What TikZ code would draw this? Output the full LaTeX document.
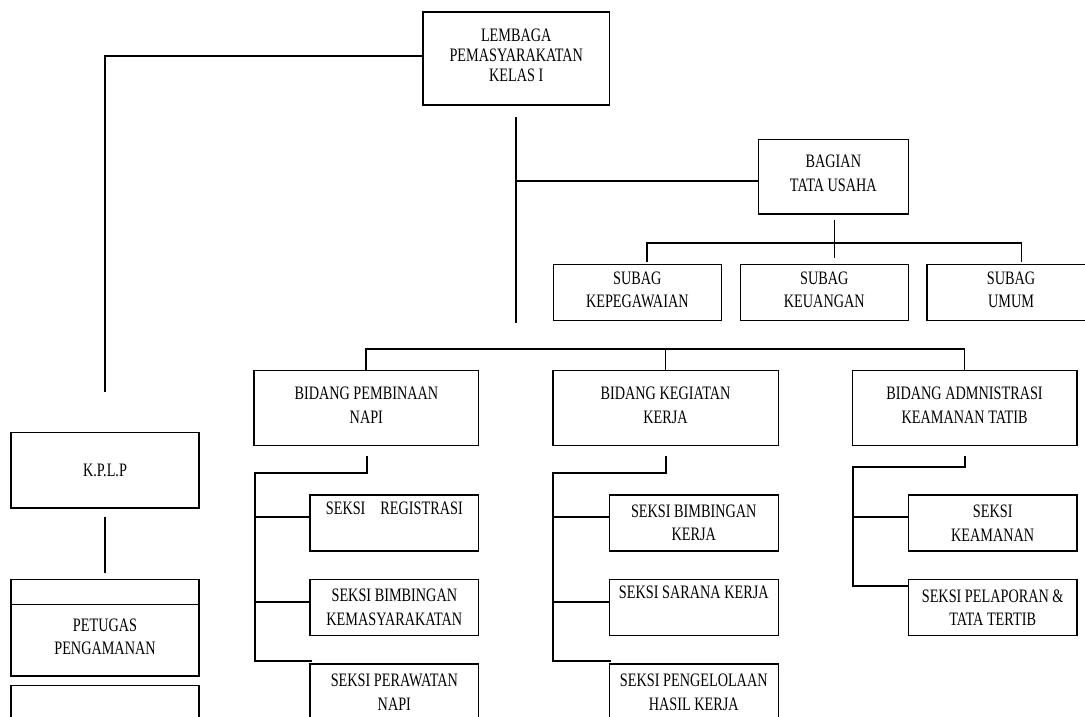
\documentclass[tikz,border=0pt]{standalone}
\usepackage{fontspec}
\setmainfont{Liberation Serif}[FakeStretch=0.75]
\usetikzlibrary{calc}
\begin{document}
\begin{tikzpicture}[x=1pt,y=-1pt,
  box/.style={draw=black, line width=1.2pt, rectangle, inner sep=0pt, align=center,
              font=\fontsize{19}{23.5}\selectfont},
  conn/.style={draw=black, line width=1.8pt}]
\clip (0,0) rectangle (1085,717);
\fill[white] (0,0) rectangle (1085,717);

% top
\node[box, minimum width=186.5, minimum height=93, font=\fontsize{19}{20}\selectfont] (lem) at (516.25,58.5) {LEMBAGA\\PEMASYARAKATAN\\KELAS I\\[-14pt]\mbox{}};

% left column
\node[box, minimum width=188, minimum height=75.3] (kplp) at (105,470.35) {K.P.L.P};
\node[box, minimum width=188, minimum height=25] (petTop) at (105,591.8) {};
\node[box, minimum width=188, minimum height=71.7] (pet) at (105,640.15) {PETUGAS\\PENGAMANAN\\[-17pt]\mbox{}};
\node[box, minimum width=188, minimum height=75] (lowbox) at (105,722.8) {};

% tata usaha
\node[box, minimum width=150.1, minimum height=74.7] (tu) at (833.35,176.65) {BAGIAN\\TATA USAHA\\[-17pt]\mbox{}};
\node[box, minimum width=168.2, minimum height=56.4] (sub1) at (637.3,292.5) {SUBAG\\KEPEGAWAIAN\\[-18pt]\mbox{}};
\node[box, minimum width=168.2, minimum height=56.4] (sub2) at (824.3,292.5) {SUBAG\\KEUANGAN\\[-18pt]\mbox{}};
\node[box, minimum width=168.2, minimum height=56.4] (sub3) at (1011,292.5) {SUBAG\\UMUM\\[-18pt]\mbox{}};

% bidang
\node[box, minimum width=224.7, minimum height=75] (b1) at (366.35,408.2) {BIDANG PEMBINAAN\\NAPI\\[-18pt]\mbox{}};
\node[box, minimum width=225.2, minimum height=75] (b2) at (665.5,408.2) {BIDANG KEGIATAN\\KERJA\\[-18pt]\mbox{}};
\node[box, minimum width=224.9, minimum height=75] (b3) at (964.55,408.2) {BIDANG ADMNISTRASI\\KEAMANAN TATIB\\[-18pt]\mbox{}};

% seksi col 1
\node[box, minimum width=168.7, minimum height=56] (s11) at (394.35,523) {SEKSI\hspace{15pt}REGISTRASI\\\strut};
\node[box, minimum width=168.7, minimum height=56.4] (s12) at (394.35,607.5) {SEKSI BIMBINGAN\\KEMASYARAKATAN};
\node[box, minimum width=168.7, minimum height=56.3] (s13) at (394.35,692.15) {SEKSI PERAWATAN\\NAPI};
% seksi col 2
\node[box, minimum width=168.6, minimum height=56] (s21) at (693.8,523) {SEKSI BIMBINGAN\\KERJA};
\node[box, minimum width=168.6, minimum height=56.4] (s22) at (693.8,607.5) {SEKSI SARANA KERJA\\\strut};
\node[box, minimum width=168.6, minimum height=56.3] (s23) at (693.8,692.15) {SEKSI PENGELOLAAN\\HASIL KERJA};
% seksi col 3
\node[box, minimum width=168.6, minimum height=56] (s31) at (992.7,523) {SEKSI\\KEAMANAN};
\node[box, minimum width=168.6, minimum height=56.4] (s32) at (992.7,607.5) {SEKSI PELAPORAN \&\\TATA TERTIB};

% coordinates for free line ends
\coordinate (kIn) at (105,392);
\coordinate (kA) at (105,516.7);
\coordinate (kB) at (105,573.3);
\coordinate (tTop) at (516,117);
\coordinate (tBot) at (516,323);
\coordinate (tMid) at (516,180.7);
\coordinate (tuA) at (834.4,220);
\coordinate (tuB) at (834.4,258.3);
\coordinate (tuBus) at (834.4,243.3);
\coordinate (sbL) at (647,261.7);
\coordinate (sbR) at (1021.4,261.7);

\coordinate (j1) at (366.7,455.7);
\coordinate (v1) at (254.8,473.3);
\coordinate (e1) at (311.6,660.7);
\coordinate (h11) at (254.8,517.3);
\coordinate (h12) at (254.8,602.3);

\coordinate (j2) at (665.8,455.7);
\coordinate (v2) at (553.2,473.3);
\coordinate (e2) at (610.5,660.7);
\coordinate (h21) at (553.2,516.7);
\coordinate (h22) at (553.2,602.3);

\coordinate (j3) at (964.7,455.7);
\coordinate (v3) at (852.8,466.7);
\coordinate (e3) at (909.1,585.7);
\coordinate (h31) at (852.8,516.7);

% connectors
\draw[conn] (lem.west |- 0,56) -| (kIn);
\draw[conn] (kA) -- (kB);
\draw[conn] (tTop) -- (tBot);
\draw[conn] (tMid) -- (tMid -| tu.west);
\draw[conn] (tuA) -- (tuB);
\draw[conn] (sbL) |- (tuBus) -| (sbR);

\draw[conn] (b1.north) -- ++(0,-21.4) -| (b3.north);
\draw[conn] (b2.north) -- ++(0,-21.4);

\draw[conn] (j1) |- (v1) |- (e1);
\draw[conn] (h11) -- (h11 -| s11.west);
\draw[conn] (h12) -- (h12 -| s12.west);

\draw[conn] (j2) |- (v2) |- (e2);
\draw[conn] (h21) -- (h21 -| s21.west);
\draw[conn] (h22) -- (h22 -| s22.west);

\draw[conn] (j3) |- (v3) |- (e3);
\draw[conn] (h31) -- (h31 -| s31.west);
\end{tikzpicture}
\end{document}
